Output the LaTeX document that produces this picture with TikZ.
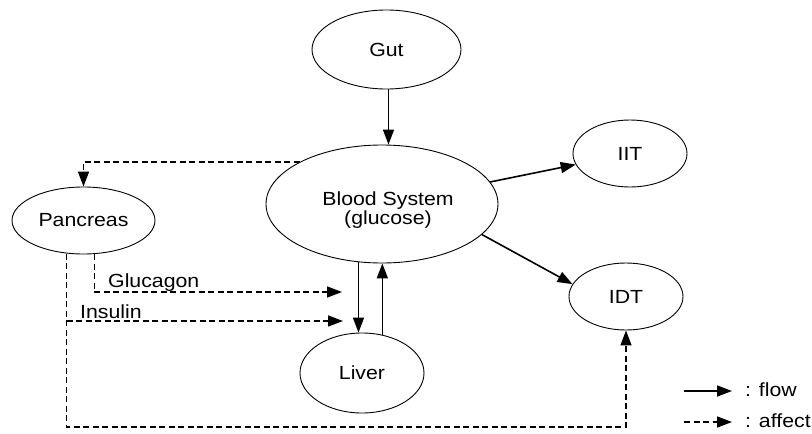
\documentclass[tikz,border=0pt]{standalone}
\usepackage{fontspec}
\setmainfont{Liberation Sans}[FakeStretch=1.12]
\usetikzlibrary{shapes.geometric,arrows.meta}
\begin{document}
\begin{tikzpicture}[x=1pt,y=-1pt,
  blob/.style={draw, ellipse, inner sep=0pt, line width=0.9pt},
  flow/.style={line width=1.6pt, -{Triangle[length=15pt,width=11pt]}},
  affect/.style={line width=1.5pt, dash pattern=on 6pt off 3.5pt, -{Triangle[length=15pt,width=11pt]}},
  lbl/.style={inner sep=0pt},
  every node/.style={font=\fontsize{19}{16.5}\selectfont}]
\useasboundingbox (0,0) rectangle (812,434);

\node[blob, minimum width=149pt, minimum height=79pt] (gut) at (386.5,49.5) {};
\node[lbl] (guttxt) at (gut) {Gut};
\node[blob, minimum width=232pt, minimum height=118pt] (blood) at (382,204) {};
\node[lbl, align=center] (bloodtxt) at (388,210) {Blood System\\(glucose)};
\node[blob, minimum width=114pt, minimum height=67pt] (iit) at (630,153.5) {IIT};
\node[blob, minimum width=114pt, minimum height=67pt] (idt) at (626,296.5) {IDT};
\node[blob, minimum width=143pt, minimum height=67pt] (pancreas) at (83.5,220.5) {Pancreas};
\node[blob, minimum width=124pt, minimum height=80pt] (liver) at (362,373) {Liver};

\coordinate (glend) at (342,292);
\coordinate (inend) at (343,321);
\coordinate (bottom) at (0,427);

% flows
\draw[flow] (gut.south) ++(2,0) coordinate (gs) -- (gs |- blood.north);
\draw[flow] (blood) -- (iit);
\draw[flow] (blood.-17) -- (idt.167);
\draw[flow] (blood.-112.6) -- (blood.-112.6 |- liver.north);
\draw[flow] (liver.62) -- (liver.62 |- blood.south);

% affects
\draw[affect] (blood.153) -| (pancreas.north);
\draw[affect] (pancreas.-72) |- (glend);
\draw[affect] (pancreas.-117) -- (pancreas.-117 |- bottom) -| (idt.south);
\draw[affect] (pancreas.-117 |- inend) -- (inend);

\node[lbl, anchor=base west] (glu) at (108,287) {Glucagon};
\node[lbl, anchor=base west] (ins) at (80,318) {Insulin};

% legend
\coordinate (lf1) at (684,391);
\coordinate (lf2) at (732,391);
\coordinate (la1) at (684,422);
\coordinate (la2) at (732,422);
\draw[flow] (lf1) -- (lf2);
\draw[affect] (la1) -- (la2);
\node[lbl, anchor=base west] (lflow) at (745,396.5) {: flow};
\node[lbl, anchor=base west] (laff) at (745,427) {: affect};
\end{tikzpicture}
\end{document}
